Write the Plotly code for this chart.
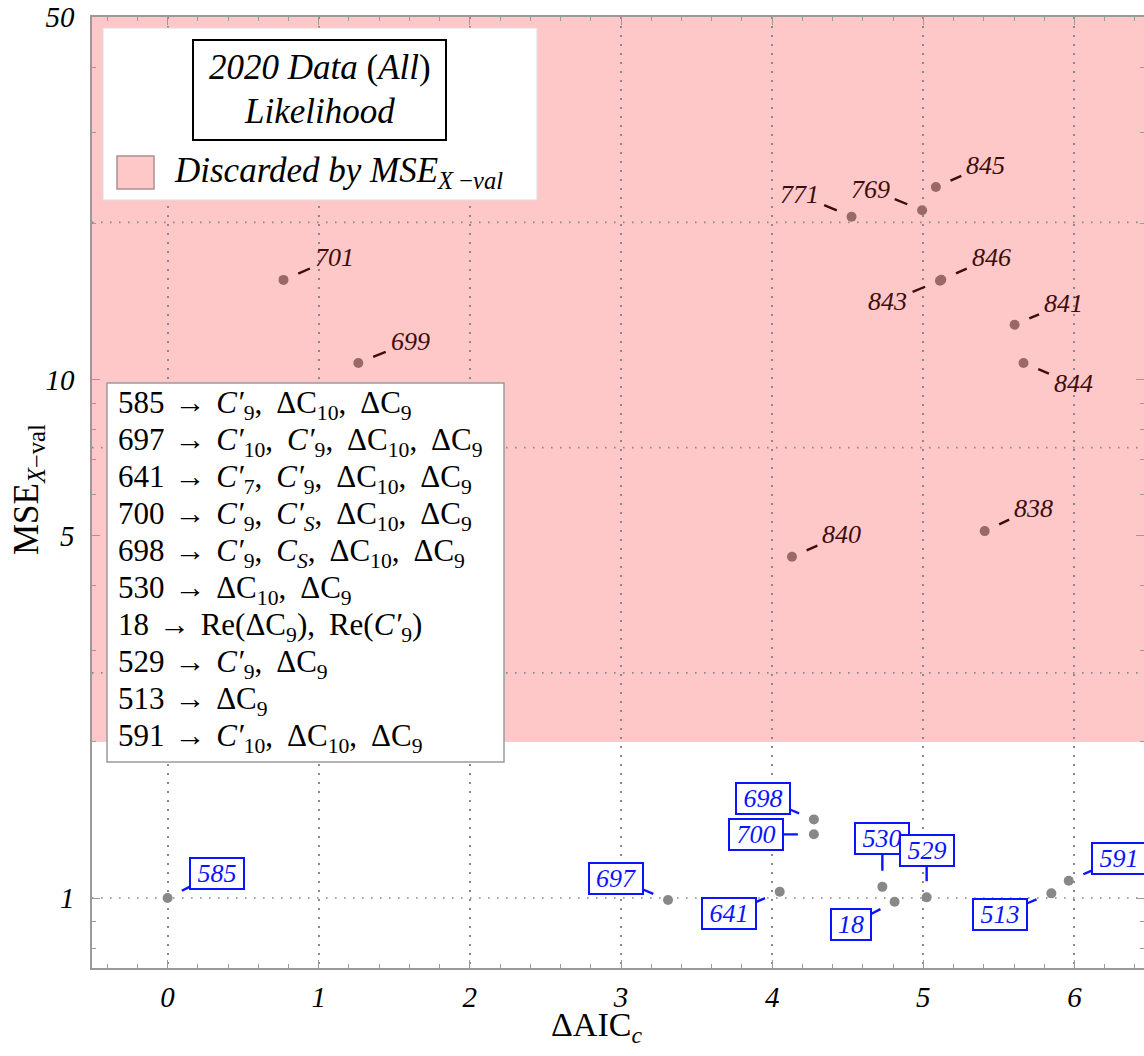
import math
import plotly.graph_objects as go

# ---------------- data ----------------
discarded_ids = ["701", "699", "771", "769", "845", "846", "843", "841", "844", "840", "838"]
discarded_daic = [0.767, 1.262, 4.525, 4.992, 5.083, 5.119, 5.110, 5.604, 5.663, 4.131, 5.406]
discarded_mse = [15.56, 10.76, 20.6, 21.2, 23.5, 15.57, 15.50, 12.75, 10.76, 4.55, 5.10]

kept_ids = ["585", "697", "641", "698", "700", "530", "18", "529", "513", "591"]
kept_daic = [0.000, 3.311, 4.050, 4.276, 4.276, 4.729, 4.810, 5.022, 5.847, 5.962]
kept_mse = [1.000, 0.991, 1.028, 1.418, 1.327, 1.051, 0.984, 1.003, 1.021, 1.080]

mse_threshold = 2.0
x_range = [-0.5, 6.46]
y_range = [0.733, 50.0]
x_ticks = [0, 1, 2, 3, 4, 5, 6]
y_ticks = [1, 5, 10, 50]
y_minor = [0.8, 0.9, 2, 3, 4, 6, 7, 8, 9, 20, 30, 40]
y_grid_powers_e = [0, 1, 2, 3]

legend_lines = [
    ("585", [("p", "9"), ("d", "10"), ("d", "9")]),
    ("697", [("p", "10"), ("p", "9"), ("d", "10"), ("d", "9")]),
    ("641", [("p", "7"), ("p", "9"), ("d", "10"), ("d", "9")]),
    ("700", [("p", "9"), ("p", "<i>S</i>"), ("d", "10"), ("d", "9")]),
    ("698", [("p", "9"), ("c", "<i>S</i>"), ("d", "10"), ("d", "9")]),
    ("530", [("d", "10"), ("d", "9")]),
    ("18", [("rd", "9"), ("rp", "9")]),
    ("529", [("p", "9"), ("d", "9")]),
    ("513", [("d", "9")]),
    ("591", [("p", "10"), ("d", "10"), ("d", "9")]),
]

# ---------------- styles / layout helpers ----------------
FONT = "Liberation Serif"
W, H = 1144, 1056
ML, MT, MR, MB = 92, 17, 0, 88
PW, PH = W - ML - MR, H - MT - MB
PINK = "#ffc8c8"
GRID = "#8a8a8a"
FRAME = "#9a9a9a"
DARK = "#3d0c0c"
BLUE = "#0a14ff"


def pxx(px):
    return (px - ML) / PW


def pxy(py):
    return (H - MB - py) / PH


dark_off = {"701": (51, -22), "699": (52, -21), "771": (-52, -22), "769": (-52, -21),
            "845": (50, -22), "846": (50, -22), "843": (-52, 21), "841": (49, -21),
            "844": (50, 21), "840": (50, -22), "838": (49, -23)}
blue_off = {"585": (49, -25), "697": (-52, -22), "641": (-51, 22), "698": (-51, -21),
            "700": (-58, 0), "530": (0, -48), "18": (-44, 23), "529": (0, -47),
            "513": (-51, 21), "591": (50, -22)}

fig = go.Figure()

fig.add_trace(go.Scatter(
    x=discarded_daic, y=discarded_mse, mode="markers",
    marker=dict(size=10, color="#9b6868"), hoverinfo="skip", showlegend=False))
fig.add_trace(go.Scatter(
    x=kept_daic, y=kept_mse, mode="markers",
    marker=dict(size=10, color="#888888"), hoverinfo="skip", showlegend=False))

shapes = []
# pink discarded region (shape coordinates are data values here)
shapes.append(dict(type="rect", xref="paper", yref="y", x0=0, x1=1,
                   y0=mse_threshold, y1=y_range[1],
                   fillcolor=PINK, line=dict(width=0), layer="below"))
# horizontal grid lines at e^k
for k in y_grid_powers_e:
    yv = math.e ** k
    shapes.append(dict(type="line", xref="paper", yref="y", x0=0, x1=1, y0=yv, y1=yv,
                       line=dict(color=GRID, width=1.6, dash="1.6px,7.4px"), layer="between"))
# legend box 1
shapes.append(dict(type="rect", xref="paper", yref="paper", x0=pxx(103), x1=pxx(537),
                   y0=pxy(200), y1=pxy(28), fillcolor="white",
                   line=dict(color="#dddddd", width=1), layer="above"))
shapes.append(dict(type="rect", xref="paper", yref="paper", x0=pxx(193), x1=pxx(446),
                   y0=pxy(140), y1=pxy(40), fillcolor="white",
                   line=dict(color="black", width=2), layer="above"))
shapes.append(dict(type="rect", xref="paper", yref="paper", x0=pxx(117), x1=pxx(154),
                   y0=pxy(189), y1=pxy(156), fillcolor=PINK,
                   line=dict(color="#aa9090", width=1.5), layer="above"))
# legend box 2
shapes.append(dict(type="rect", xref="paper", yref="paper", x0=pxx(107), x1=pxx(504),
                   y0=pxy(762), y1=pxy(383), fillcolor="white",
                   line=dict(color="#9a9a9a", width=1.5), layer="above"))

ann = []
# dark labels
for i, lab in enumerate(discarded_ids):
    ax, ay = dark_off[lab]
    ann.append(dict(x=discarded_daic[i], y=math.log10(discarded_mse[i]), xref="x", yref="y",
                    text=lab, showarrow=True, arrowhead=0, arrowwidth=2.4, arrowcolor=DARK,
                    ax=ax, ay=ay, standoff=16, startstandoff=5, borderpad=0,
                    font=dict(family=FONT, size=26, color=DARK, style="italic")))
# blue labels
for i, lab in enumerate(kept_ids):
    ax, ay = blue_off[lab]
    ann.append(dict(x=kept_daic[i], y=math.log10(kept_mse[i]), xref="x", yref="y",
                    text=lab, showarrow=True, arrowhead=0, arrowwidth=2.4, arrowcolor=BLUE,
                    ax=ax, ay=ay, standoff=16, borderpad=0, width=14 * len(lab) + 10,
                    bordercolor=BLUE, borderwidth=2, bgcolor="white",
                    font=dict(family=FONT, size=26, color=BLUE, style="italic")))

# legend 1 text
ann.append(dict(x=pxx(319.5), y=pxy(67), xref="paper", yref="paper", showarrow=False,
                text="<i>2020 Data </i>(<i>All</i>)", xanchor="center", yanchor="middle",
                font=dict(family=FONT, size=35, color="black")))
ann.append(dict(x=pxx(319.5), y=pxy(111), xref="paper", yref="paper", showarrow=False,
                text="<i>Likelihood</i>", xanchor="center", yanchor="middle",
                font=dict(family=FONT, size=35, color="black")))
ann.append(dict(x=pxx(172), y=pxy(172), xref="paper", yref="paper", showarrow=False,
                text="<i>Discarded by MSE</i><sub><i>X </i>−<i>val</i></sub>",
                xanchor="left", yanchor="middle",
                font=dict(family=FONT, size=35, color="black")))

SP = "\u2004"
CS = ",\u2009 "


def term(kind, s):
    if kind == "p":
        return f"<i>C′</i><sub>{s}</sub>"
    if kind == "c":
        return f"<i>C</i><sub>{s}</sub>"
    if kind == "d":
        return f"ΔC<sub>{s}</sub>"
    if kind == "rd":
        return f"Re(ΔC<sub>{s}</sub>)"
    if kind == "rp":
        return f"Re(<i>C′</i><sub>{s}</sub>)"
    return s


for i, (num, terms) in enumerate(legend_lines):
    txt = num + SP + "→" + SP + CS.join(term(k, s) for k, s in terms)
    ann.append(dict(x=pxx(116), y=pxy(405 + 37.0 * i), xref="paper", yref="paper",
                    showarrow=False, text=txt, xanchor="left", yanchor="middle",
                    font=dict(family=FONT, size=31, color="black")))

# axis titles
ann.append(dict(x=pxx(596), y=pxy(1027), xref="paper", yref="paper", showarrow=False,
                text="ΔAIC<sub><i>c</i></sub>", xanchor="center", yanchor="middle",
                font=dict(family=FONT, size=34, color="black")))
ann.append(dict(x=pxx(28), y=pxy(490), xref="paper", yref="paper", showarrow=False,
                text="MSE<sub><i>X</i>−val</sub>", xanchor="center", yanchor="middle",
                textangle=-90, font=dict(family=FONT, size=35, color="black")))

fig.update_layout(
    width=W, height=H, margin=dict(l=ML, r=MR, t=MT, b=MB, pad=0),
    paper_bgcolor="white", plot_bgcolor="white",
    shapes=shapes, annotations=ann, showlegend=False,
    xaxis=dict(range=x_range, tickvals=x_ticks, ticktext=[str(v) for v in x_ticks],
               ticks="inside", ticklen=8, tickwidth=1.2, tickcolor=FRAME,
               showline=True, linecolor=FRAME, linewidth=1.5, mirror="ticks",
               showgrid=True, gridcolor=GRID, gridwidth=1.6, griddash="1.6px,7.4px",
               zeroline=False, ticklabelstandoff=2, automargin=False,
               minor=dict(dtick=0.2, ticks="inside", ticklen=4, tickcolor=FRAME, showgrid=False),
               tickfont=dict(family=FONT, size=29, color="black", style="italic")),
    yaxis=dict(type="log", range=[math.log10(y_range[0]), math.log10(y_range[1])],
               tickvals=y_ticks, ticktext=[str(v) for v in y_ticks],
               ticks="inside", ticklen=8, tickwidth=1.2, tickcolor=FRAME,
               showline=True, linecolor=FRAME, linewidth=1.5, mirror="ticks",
               showgrid=False, zeroline=False, ticklabelstandoff=10, automargin=False,
               minor=dict(tickvals=y_minor, ticks="inside", ticklen=4, tickcolor=FRAME,
                          showgrid=False),
               tickfont=dict(family=FONT, size=29, color="black", style="italic")),
)

fig.write_html("out.html")
